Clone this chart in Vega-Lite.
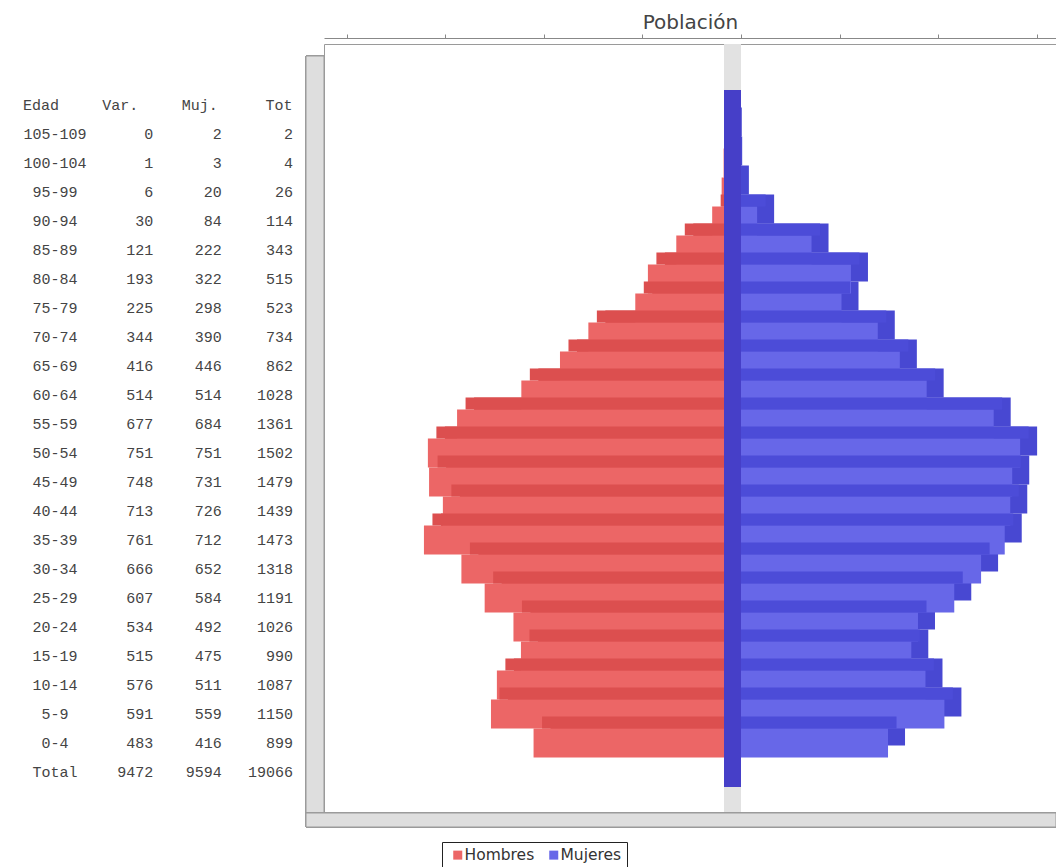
{
  "$schema": "https://vega.github.io/schema/vega-lite/v6.json",
  "padding": {"left": 0, "top": 12, "right": 0, "bottom": 0},
  "spacing": 24,
  "bounds": "flush",
  "config": {"font": "DejaVu Sans", "view": {"stroke": null}},
  "datasets": {
    "tabla": [
      {"edad": "105-109", "var": 0, "muj": 2, "tot": 2},
      {"edad": "100-104", "var": 1, "muj": 3, "tot": 4},
      {"edad": "95-99", "var": 6, "muj": 20, "tot": 26},
      {"edad": "90-94", "var": 30, "muj": 84, "tot": 114},
      {"edad": "85-89", "var": 121, "muj": 222, "tot": 343},
      {"edad": "80-84", "var": 193, "muj": 322, "tot": 515},
      {"edad": "75-79", "var": 225, "muj": 298, "tot": 523},
      {"edad": "70-74", "var": 344, "muj": 390, "tot": 734},
      {"edad": "65-69", "var": 416, "muj": 446, "tot": 862},
      {"edad": "60-64", "var": 514, "muj": 514, "tot": 1028},
      {"edad": "55-59", "var": 677, "muj": 684, "tot": 1361},
      {"edad": "50-54", "var": 751, "muj": 751, "tot": 1502},
      {"edad": "45-49", "var": 748, "muj": 731, "tot": 1479},
      {"edad": "40-44", "var": 713, "muj": 726, "tot": 1439},
      {"edad": "35-39", "var": 761, "muj": 712, "tot": 1473},
      {"edad": "30-34", "var": 666, "muj": 652, "tot": 1318},
      {"edad": "25-29", "var": 607, "muj": 584, "tot": 1191},
      {"edad": "20-24", "var": 534, "muj": 492, "tot": 1026},
      {"edad": "15-19", "var": 515, "muj": 475, "tot": 990},
      {"edad": "10-14", "var": 576, "muj": 511, "tot": 1087},
      {"edad": "5-9", "var": 591, "muj": 559, "tot": 1150},
      {"edad": "0-4", "var": 483, "muj": 416, "tot": 899},
      {"edad": "Total", "var": 9472, "muj": 9594, "tot": 19066}
    ],
    "cabecera": [
      {"col": "Edad", "t": "Edad"},
      {"col": "Var.", "t": "Var."},
      {"col": "Muj.", "t": "Muj."},
      {"col": "Tot", "t": "Tot"}
    ]
  },
  "resolve": {"scale": {"x": "independent", "y": "shared", "color": "shared"}, "legend": {"color": "shared"}},
  "hconcat": [
    {
      "width": 300,
      "height": 769,
      "view": {"stroke": null},
      "layer": [
        {
          "data": {"name": "cabecera"},
          "mark": {"type": "text", "align": "center", "dx": -14, "font": "Liberation Mono", "fontSize": 15, "fill": "#444"},
          "encoding": {
            "x": {"field": "col", "type": "nominal", "axis": null,
                  "scale": {"type": "point", "domain": ["Edad", "Var.", "Muj.", "Tot"], "padding": 0.391, "align": 0.887}},
            "y": {"datum": "Edad", "type": "nominal", "axis": null,
                  "scale": {"domain": [" ", "Edad", "105-109", "100-104", "95-99", "90-94", "85-89", "80-84", "75-79", "70-74", "65-69", "60-64", "55-59", "50-54", "45-49", "40-44", "35-39", "30-34", "25-29", "20-24", "15-19", "10-14", "5-9", "0-4", "Total"], "paddingInner": 0, "paddingOuter": 0.7586, "align": 0.3977}},
            "text": {"field": "t", "type": "nominal"}
          }
        },
        {
          "data": {"name": "tabla"},
          "mark": {"type": "text", "align": "center", "font": "Liberation Mono", "fontSize": 15, "fill": "#444"},
          "encoding": {
            "x": {"datum": "Edad", "type": "nominal", "axis": null},
            "y": {"field": "edad", "type": "nominal", "axis": null},
            "text": {"field": "edad", "type": "nominal"}
          }
        },
        {
          "data": {"name": "tabla"},
          "mark": {"type": "text", "align": "right", "dx": 19, "font": "Liberation Mono", "fontSize": 15, "fill": "#444"},
          "encoding": {
            "x": {"datum": "Var.", "type": "nominal", "axis": null},
            "y": {"field": "edad", "type": "nominal", "axis": null},
            "text": {"field": "var", "type": "quantitative", "format": "d"}
          }
        },
        {
          "data": {"name": "tabla"},
          "mark": {"type": "text", "align": "right", "dx": 8, "font": "Liberation Mono", "fontSize": 15, "fill": "#444"},
          "encoding": {
            "x": {"datum": "Muj.", "type": "nominal", "axis": null},
            "y": {"field": "edad", "type": "nominal", "axis": null},
            "text": {"field": "muj", "type": "quantitative", "format": "d"}
          }
        },
        {
          "data": {"name": "tabla"},
          "mark": {"type": "text", "align": "right", "dx": 0, "font": "Liberation Mono", "fontSize": 15, "fill": "#444"},
          "encoding": {
            "x": {"datum": "Tot", "type": "nominal", "axis": null},
            "y": {"field": "edad", "type": "nominal", "axis": null},
            "text": {"field": "tot", "type": "quantitative", "format": "d"}
          }
        }
      ]
    },
    {
      "width": 732,
      "height": 769,
      "view": {"stroke": "#9a9a9a"},
      "data": {"name": "tabla"},
      "resolve": {"scale": {"x": "independent"}},
      "layer": [
        {
          "mark": {"type": "rect", "fill": "#e2e2e2", "xOffset": -17, "y2Offset": 14},
          "encoding": {
            "x": {"datum": 0, "type": "quantitative", "axis": null, "scale": {"domain": [-1057.6, 798.9], "nice": false, "zero": false}},
            "x2": {"datum": 0}
          }
        },
        {
          "mark": {"type": "rect", "fill": "#dedede", "stroke": "#9a9a9a", "strokeWidth": 1, "xOffset": -18, "yOffset": 12, "y2Offset": 14},
          "encoding": {
            "x": {"datum": -1057.6, "type": "quantitative", "axis": null, "scale": {"domain": [-1057.6, 798.9], "nice": false, "zero": false}},
            "x2": {"datum": -1057.6}
          }
        },
        {
          "mark": {"type": "rect", "fill": "#dedede", "stroke": "#9a9a9a", "strokeWidth": 1, "xOffset": -18, "y2Offset": 14},
          "encoding": {
            "x": {"datum": -1057.6, "type": "quantitative", "axis": null, "scale": {"domain": [-1057.6, 798.9], "nice": false, "zero": false}},
            "x2": {"datum": 798.9},
            "y": {"value": "height"},
            "y2": {"value": "height"}
          }
        },
        {
          "transform": [{"filter": "datum.edad !== 'Total'"}],
          "mark": {"type": "bar", "fill": "#d84a4a", "yOffset": -12},
          "encoding": {
            "x": {"field": "var", "type": "quantitative", "axis": null, "scale": {"domain": [-798.9, 1057.6], "nice": false, "zero": false, "reverse": true}},
            "x2": {"datum": 0},
            "y": {"field": "edad", "type": "nominal", "axis": null}
          }
        },
        {
          "transform": [{"filter": "datum.edad !== 'Total'"}],
          "mark": {"type": "bar", "fill": "#4848d2", "yOffset": -12},
          "encoding": {
            "x": {"field": "muj", "type": "quantitative", "axis": null, "scale": {"domain": [-1057.6, 798.9], "nice": false, "zero": false}},
            "x2": {"datum": 0},
            "y": {"field": "edad", "type": "nominal", "axis": null}
          }
        },
        {
          "transform": [{"filter": "datum.edad !== 'Total'"}],
          "mark": {"type": "bar", "xOffset": -17, "x2Offset": -17},
          "encoding": {
            "x": {"field": "var", "type": "quantitative", "axis": null, "scale": {"domain": [-798.9, 1057.6], "nice": false, "zero": false, "reverse": true}},
            "x2": {"datum": 0},
            "y": {"field": "edad", "type": "nominal", "axis": null},
            "color": {"datum": "Hombres", "type": "nominal",
                      "scale": {"domain": ["Hombres", "Mujeres"], "range": ["#ec6666", "#6767e8"]},
                      "legend": {"orient": "none", "legendX": 442, "legendY": 798, "direction": "horizontal", "title": null,
                                 "symbolType": "square", "symbolSize": 81, "symbolStrokeWidth": 0, "symbolOffset": 3,
                                 "labelFont": "DejaVu Sans", "labelFontSize": 15.5, "labelColor": "#333", "labelOffset": -1,
                                 "strokeColor": "#222", "fillColor": "#fff", "padding": 5, "columnPadding": 8}}
          }
        },
        {
          "transform": [{"filter": "datum.edad !== 'Total'"}],
          "mark": {"type": "bar", "xOffset": -17, "x2Offset": -17},
          "encoding": {
            "x": {"field": "muj", "type": "quantitative",
                  "scale": {"domain": [-1057.6, 798.9], "nice": false, "zero": false},
                  "axis": {"orient": "top", "values": [-1000, -750, -500, -250, 0, 250, 500, 750], "labels": false, "grid": false,
                           "offset": 6, "domainColor": "#888", "tickColor": "#888", "tickSize": 4,
                           "title": "Población", "titleFont": "DejaVu Sans", "titleFontSize": 20, "titleFontWeight": "normal",
                           "titleColor": "#444", "titlePadding": 1}},
            "x2": {"datum": 0},
            "y": {"field": "edad", "type": "nominal", "axis": null},
            "color": {"datum": "Mujeres", "type": "nominal"}
          }
        },
        {
          "transform": [{"filter": "datum.edad !== 'Total'"}],
          "mark": {"type": "bar", "fill": "#dc4f4f", "height": 12, "yOffset": -20.5, "xOffset": -8.5, "x2Offset": -8.5},
          "encoding": {
            "x": {"field": "var", "type": "quantitative", "axis": null, "scale": {"domain": [-798.9, 1057.6], "nice": false, "zero": false, "reverse": true}},
            "x2": {"datum": 0},
            "y": {"field": "edad", "type": "nominal", "axis": null}
          }
        },
        {
          "transform": [{"filter": "datum.edad !== 'Total'"}],
          "mark": {"type": "bar", "fill": "#4c4cd8", "height": 12, "yOffset": -20.5, "xOffset": -8.5, "x2Offset": -8.5},
          "encoding": {
            "x": {"field": "muj", "type": "quantitative", "axis": null, "scale": {"domain": [-1057.6, 798.9], "nice": false, "zero": false}},
            "x2": {"datum": 0},
            "y": {"field": "edad", "type": "nominal", "axis": null}
          }
        },
        {
          "mark": {"type": "rect", "fill": "#4640c8", "opacity": 0.85, "xOffset": -17},
          "encoding": {
            "x": {"datum": 0, "type": "quantitative", "axis": null, "scale": {"domain": [-1057.6, 798.9], "nice": false, "zero": false}},
            "x2": {"datum": 0},
            "y": {"datum": "Edad", "type": "nominal", "bandPosition": 0, "axis": null},
            "y2": {"datum": "Total", "bandPosition": 1}
          }
        }
      ]
    }
  ]
}
